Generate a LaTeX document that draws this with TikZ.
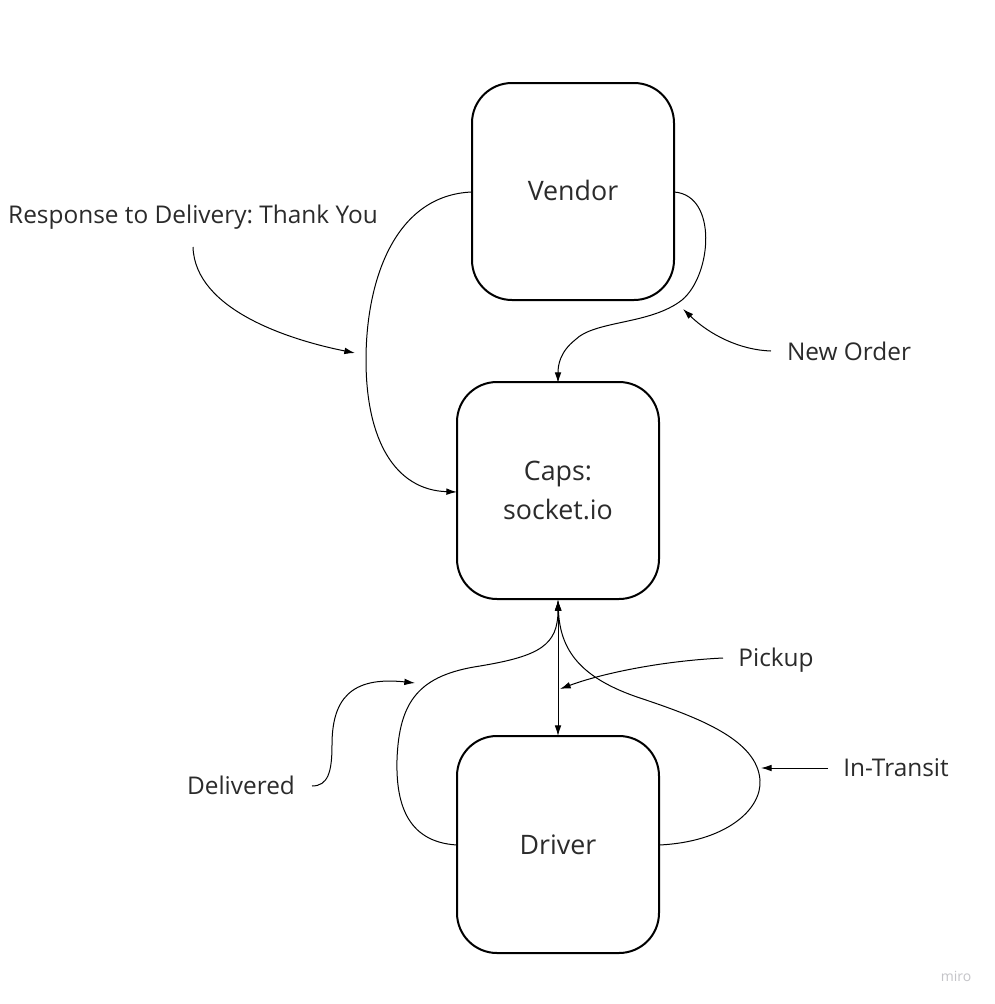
\documentclass[tikz,border=0pt]{standalone}
\usepackage{fontspec}
\setmainfont{Open Sans}
\usetikzlibrary{arrows.meta}
\definecolor{txt}{HTML}{2B2B2B}
\definecolor{mirogray}{HTML}{C4C4C8}
\frenchspacing
\begin{document}
\begin{tikzpicture}[x=0.75pt,y=-0.75pt,
  box/.style={draw, line width=1.5pt, rounded corners=30pt, minimum width=151.5pt, minimum height=162.75pt, inner sep=0pt, font=\fontsize{20.1}{29}\selectfont, text=txt, align=center},
  lbl/.style={font=\fontsize{18.3}{22}\selectfont, text=txt, inner sep=0pt},
  conn/.style={line width=0.75pt, -{Latex[length=8pt,width=5pt]}},
  dconn/.style={line width=0.75pt, {Latex[length=8pt,width=5pt]}-{Latex[length=8pt,width=5pt]}}]
\useasboundingbox (0,0) rectangle (995,1004);
\fill[white] (0,0) rectangle (995,1004);
% boxes
\node[box] (vendor) at (573,191.5) {};
\node[font=\fontsize{20.1}{29}\selectfont, text=txt] (vendort) at (573,190) {Vendor};
\node[box] (caps) at (558,490.5) {Caps:\\socket.io};
\node[box] (driver) at (558,844.5) {Driver};
% labels
\node[lbl] (resp) at (193,217) {Response to Delivery: Thank You};
\node[lbl] (neworder) at (849,351) {New Order};
\node[lbl] (pickup) at (776,660) {Pickup};
\node[lbl] (delivered) at (241,785) {Delivered};
\node[lbl] (intransit) at (896,768) {In-Transit};
\node[font=\fontsize{10.5}{12}\selectfont, text=mirogray] (miro) at (956,976) {miro};
% coordinates
\coordinate (vl) at (472,192);
\coordinate (vr) at (674,192);
\coordinate (ctop) at (558,383);
\coordinate (cleft) at (457,492);
\coordinate (cbot) at (558,600);
\coordinate (dtop) at (558,736);
\coordinate (dl) at (457,845);
\coordinate (dr) at (659,845);
\coordinate (rpt) at (355,353);
\coordinate (npt) at (683,309);
\coordinate (ppt) at (560,689);
\coordinate (dpt) at (415,683);
\coordinate (ipt) at (761,768);
\coordinate (rs) at (193,247);
\coordinate (ns) at (771,351);
\coordinate (ps) at (723,658);
\coordinate (ds) at (312,786);
\coordinate (is) at (828,768);
% vendor -> caps (left)
\draw[conn] (vl) .. controls (395,195) and (366,280) .. (366,360) .. controls (366,440) and (395,490) .. (cleft);
% vendor -> caps (right)
\draw[conn] (vr) .. controls (718,195) and (712,275) .. (682,300) .. controls (650,325) and (595,320) .. (575,340) .. controls (560,352) and (558,365) .. (ctop);
% caps <-> driver
\draw[dconn] (cbot) -- (dtop);
% driver -> caps (left)
\draw[conn] (dl) .. controls (405,842) and (396,800) .. (397,760) .. controls (399,700) and (420,675) .. (480,666) .. controls (540,656) and (558,645) .. (cbot);
% driver -> caps (right)
\draw[conn] (dr) .. controls (725,842) and (762,810) .. (760,780) .. controls (757,740) and (700,718) .. (640,698) .. controls (580,678) and (560,650) .. (cbot);
% label arrows
\draw[conn] (rs) .. controls (195,310) and (290,340) .. (rpt);
\draw[conn] (ns) .. controls (740,350) and (710,335) .. (npt);
\draw[conn] (ps) .. controls (660,661) and (600,674) .. (ppt);
\draw[conn] (ds) .. controls (328,786) and (332,772) .. (332,745) .. controls (332,700) and (350,676) .. (dpt);
\draw[conn] (is) -- (ipt);
\end{tikzpicture}
\end{document}
